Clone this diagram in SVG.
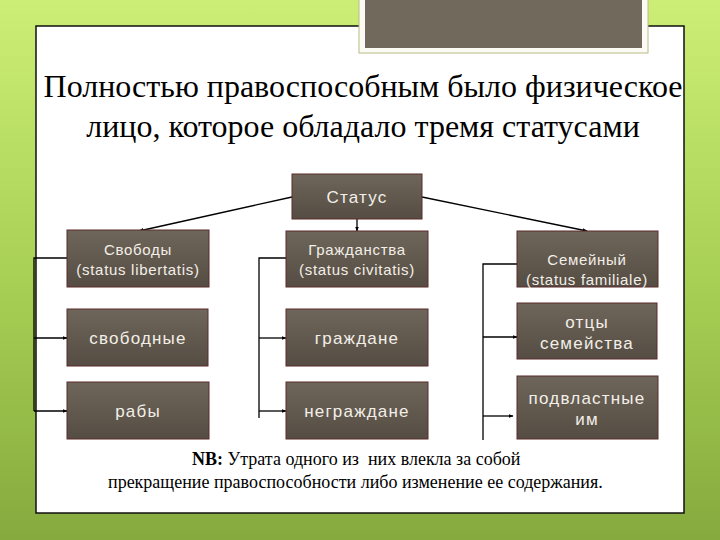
<svg xmlns="http://www.w3.org/2000/svg" width="720" height="540" viewBox="0 0 720 540">
<defs>
<linearGradient id="bg" x1="0" y1="0" x2="0" y2="1">
<stop offset="0" stop-color="#cdee76"/>
<stop offset="0.5" stop-color="#a9d155"/>
<stop offset="1" stop-color="#86aa3e"/>
</linearGradient>
<linearGradient id="bx" x1="0" y1="0" x2="0" y2="1">
<stop offset="0" stop-color="#6e665a"/>
<stop offset="1" stop-color="#554d43"/>
</linearGradient>
<marker id="ar" viewBox="0 0 10 10" refX="9" refY="5" markerWidth="5" markerHeight="5" orient="auto" markerUnits="userSpaceOnUse">
<path d="M0,1 L10,5 L0,9 z" fill="#000"/>
</marker>
<style>
.box{fill:url(#bx);stroke:#5a2b2b;stroke-width:1}
.t{font-family:"Liberation Sans","DejaVu Sans",sans-serif;fill:#f3efe8;text-anchor:middle}
.s{font-size:15px;letter-spacing:0.7px}
.m{font-size:17px;letter-spacing:1.2px}
.c{fill:none;stroke:#000;stroke-width:1.3}
.ttl{font-family:"Liberation Serif","Times New Roman",serif;font-size:32px;fill:#000;text-anchor:middle}
.nb{font-family:"Liberation Serif","Times New Roman",serif;font-size:18px;fill:#000;white-space:pre}
</style>
</defs>
<rect x="0" y="0" width="720" height="540" fill="url(#bg)"/>
<rect x="36" y="26" width="648" height="487" fill="#fff" stroke="#111" stroke-width="1.5"/>
<g id="topbox">
<rect x="359" y="-2" width="289" height="55" fill="#fbfbf4" stroke="#b8bb86" stroke-width="1"/>
<rect x="365" y="-2" width="277" height="50" fill="#71695b"/>
</g>
<g id="title">
<text class="ttl" x="363" y="97">Полностью правоспособным было физическое</text>
<text class="ttl" x="363" y="137">лицо, которое обладало тремя статусами</text>
</g>
<g id="connectors">
<line class="c" x1="292" y1="197" x2="139" y2="231" marker-end="url(#ar)"/>
<line class="c" x1="357" y1="219" x2="357" y2="231" marker-end="url(#ar)"/>
<line class="c" x1="422" y1="197" x2="587" y2="231" marker-end="url(#ar)"/>
<polyline class="c" points="67,258 34,258 34,411"/>
<line class="c" x1="34" y1="338" x2="67" y2="338" marker-end="url(#ar)"/>
<line class="c" x1="34" y1="411" x2="67" y2="411" marker-end="url(#ar)"/>
<polyline class="c" points="286,258 259,258 259,418"/>
<line class="c" x1="259" y1="338" x2="286" y2="338" marker-end="url(#ar)"/>
<line class="c" x1="259" y1="411" x2="286" y2="411" marker-end="url(#ar)"/>
<polyline class="c" points="517,264 483,264 483,440"/>
<line class="c" x1="483" y1="337" x2="517" y2="337" marker-end="url(#ar)"/>
<line class="c" x1="483" y1="416" x2="513" y2="416" marker-end="url(#ar)"/>
</g>
<g id="status"><rect class="box" x="292" y="174" width="130" height="45"/><text class="t m" x="357" y="203">Статус</text></g>
<g id="svobody"><rect class="box" x="67" y="230" width="142" height="57"/><text class="t s" x="138" y="255">Свободы</text><text class="t s" x="138" y="275">(status libertatis)</text></g>
<g id="grazhd"><rect class="box" x="286" y="231" width="142" height="56"/><text class="t s" x="357" y="255">Гражданства</text><text class="t s" x="357" y="275">(status civitatis)</text></g>
<g id="semeyny"><rect class="box" x="517" y="231" width="141" height="56"/><text class="t s" x="587" y="265">Семейный</text><text class="t s" x="587" y="285">(status familiale)</text></g>
<g id="svobodnye"><rect class="box" x="67" y="309" width="141" height="57"/><text class="t m" x="138" y="344">свободные</text></g>
<g id="grazhdane"><rect class="box" x="286" y="309" width="142" height="57"/><text class="t m" x="357" y="344">граждане</text></g>
<g id="ottsy"><rect class="box" x="517" y="303" width="140" height="56"/><text class="t m" x="587" y="328">отцы</text><text class="t m" x="587" y="349">семейства</text></g>
<g id="raby"><rect class="box" x="67" y="382" width="142" height="57"/><text class="t m" x="138" y="417">рабы</text></g>
<g id="negrazhdane"><rect class="box" x="286" y="382" width="142" height="57"/><text class="t m" x="357" y="417">неграждане</text></g>
<g id="podvlastnye"><rect class="box" x="517" y="376" width="141" height="63"/><text class="t m" x="587" y="404">подвластные</text><text class="t m" x="587" y="425">им</text></g>
<g id="note">
<text class="nb" x="192" y="465" xml:space="preserve"><tspan font-weight="bold">NB:</tspan> Утрата одного из  них влекла за собой</text>
<text class="nb" x="108" y="488">прекращение правоспособности либо изменение ее содержания.</text>
</g>
</svg>
